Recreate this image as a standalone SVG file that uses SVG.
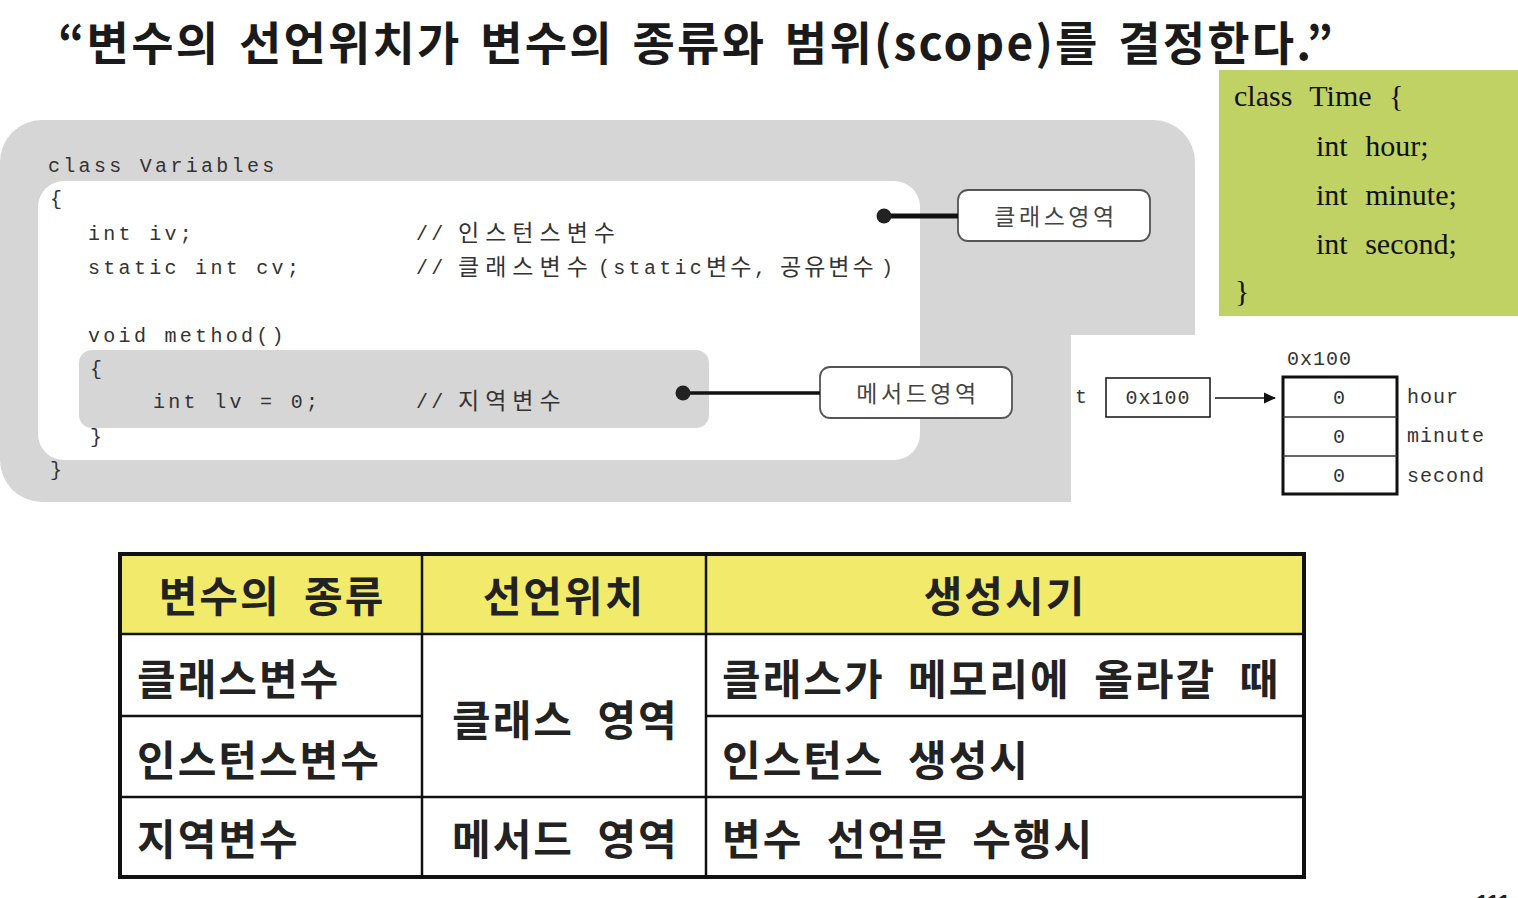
<svg xmlns="http://www.w3.org/2000/svg" width="1518" height="898" viewBox="0 0 1518 898">
<defs>
<style>
.title{font-family:"Noto Sans CJK KR","Liberation Serif",serif;font-weight:700;font-size:46px;fill:#1a1a1a;word-spacing:6px}
.code{font-family:"Liberation Mono","Noto Sans CJK KR",monospace;font-size:20px;fill:#333;letter-spacing:3.3px}
.ko{font-family:"Noto Sans CJK KR",sans-serif;font-size:23px;fill:#333;letter-spacing:6px}
.ko2{font-family:"Noto Sans CJK KR",sans-serif;font-size:23px;fill:#333;letter-spacing:3px}
.lbl{font-family:"Noto Sans CJK KR",sans-serif;font-size:23px;fill:#444;text-anchor:middle;dominant-baseline:central;letter-spacing:3.5px}
.lblbox{fill:#fff;stroke:#555;stroke-width:1.8}
.serif{font-family:"Liberation Serif",serif;font-size:30px;fill:#111;word-spacing:10px}
.mono{font-family:"Liberation Mono",monospace;font-size:20px;fill:#333}
.th{font-family:"Noto Sans CJK KR",sans-serif;font-weight:700;font-size:42px;fill:#222;text-anchor:middle;letter-spacing:2px;word-spacing:12px}
.td{font-family:"Noto Sans CJK KR",sans-serif;font-weight:700;font-size:42px;fill:#222;letter-spacing:2px;word-spacing:12px}
.grid{stroke:#111;stroke-width:2.5;fill:none}
</style>
<marker id="arr" markerWidth="12" markerHeight="12" refX="11" refY="6" orient="auto" markerUnits="userSpaceOnUse">
<path d="M0,0.5 L12,6 L0,11.5 z" fill="#111"/>
</marker>
</defs>
<rect width="1518" height="898" fill="#fff"/>

<g id="title">
<text class="title" x="58" y="60" textLength="1275" lengthAdjust="spacing">“변수의 선언위치가 변수의 종류와 범위(scope)를 결정한다.”</text>
</g>

<g id="class-variables">
<rect x="0" y="120" width="1195" height="382" rx="42" fill="#d6d6d6"/>
<rect x="38" y="181" width="882" height="279" rx="26" fill="#fff"/>
<rect x="79" y="350" width="630" height="78" rx="13" fill="#d6d6d6"/>
<text class="code" x="48" y="172">class Variables</text>
<text class="code" x="50" y="205">{</text>
<text class="code" x="88" y="240">int iv;</text>
<text class="code" x="88" y="274">static int cv;</text>
<text class="code" x="88" y="342">void method()</text>
<text class="code" x="90" y="375">{</text>
<text class="code" x="153" y="408">int lv = 0;</text>
<text class="code" x="90" y="443">}</text>
<text class="code" x="50" y="476">}</text>
<text class="code" x="416" y="240">//</text>
<text class="ko" x="458" y="241">인스턴스변수</text>
<text class="code" x="416" y="274">//</text>
<text class="ko" x="458" y="275">클래스변수</text>
<text class="code" x="598" y="274">(static</text>
<text class="ko2" x="706" y="275">변수</text>
<text class="code" x="754" y="274">,</text>
<text class="ko2" x="780" y="275">공유변수</text>
<text class="code" x="881" y="274">)</text>
<text class="code" x="416" y="408">//</text>
<text class="ko" x="458" y="409">지역변수</text>
</g>

<g id="class-area-label">
<rect class="lblbox" x="958" y="190" width="192" height="51" rx="10"/>
<text class="lbl" x="1056" y="215">클래스영역</text>
</g>

<g id="method-area-label">
<rect class="lblbox" x="820" y="367" width="192" height="51" rx="10"/>
<text class="lbl" x="918" y="392">메서드영역</text>
</g>

<g id="class-time">
<rect x="1219" y="70" width="299" height="246" fill="#c0d264"/>
<text class="serif" x="1234" y="106">class Time {</text>
<text class="serif" x="1316" y="156">int hour;</text>
<text class="serif" x="1316" y="205">int minute;</text>
<text class="serif" x="1316" y="254">int second;</text>
<text class="serif" x="1235" y="301">}</text>
</g>

<g id="memory">
<rect x="1071" y="335" width="447" height="167" fill="#fff"/>
<text class="mono" x="1075" y="403">t</text>
<rect x="1106" y="378" width="104" height="39" fill="#fff" stroke="#111" stroke-width="1.5"/>
<text class="mono" x="1158" y="404" text-anchor="middle" letter-spacing="1">0x100</text>
<text class="mono" x="1287" y="365" letter-spacing="1">0x100</text>
<rect x="1283" y="377" width="114" height="117" fill="#fff" stroke="#111" stroke-width="3"/>
<line x1="1283" y1="417" x2="1397" y2="417" stroke="#333" stroke-width="1.5"/>
<line x1="1283" y1="456" x2="1397" y2="456" stroke="#333" stroke-width="1.5"/>
<text class="mono" x="1339" y="404" text-anchor="middle">0</text>
<text class="mono" x="1339" y="443" text-anchor="middle">0</text>
<text class="mono" x="1339" y="482" text-anchor="middle">0</text>
<text class="mono" x="1407" y="403" letter-spacing="1">hour</text>
<text class="mono" x="1407" y="442" letter-spacing="1">minute</text>
<text class="mono" x="1407" y="482" letter-spacing="1">second</text>
</g>

<g id="table">
<rect x="120" y="554" width="1184" height="80" fill="#f2ea6a"/>
<rect x="120" y="554" width="1184" height="323" fill="none" stroke="#111" stroke-width="4"/>
<line class="grid" x1="120" y1="634" x2="1304" y2="634"/>
<line class="grid" x1="120" y1="716" x2="422" y2="716"/>
<line class="grid" x1="706" y1="716" x2="1304" y2="716"/>
<line class="grid" x1="120" y1="797" x2="1304" y2="797"/>
<line class="grid" x1="422" y1="554" x2="422" y2="877"/>
<line class="grid" x1="706" y1="554" x2="706" y2="877"/>
<text class="th" x="272" y="612">변수의 종류</text>
<text class="th" x="564" y="612">선언위치</text>
<text class="th" x="1005" y="612">생성시기</text>
<text class="td" x="137" y="695">클래스변수</text>
<text class="td" x="137" y="776">인스턴스변수</text>
<text class="td" x="137" y="855">지역변수</text>
<text class="td" x="452" y="736">클래스 영역</text>
<text class="td" x="452" y="855">메서드 영역</text>
<text class="td" x="722" y="695">클래스가 메모리에 올라갈 때</text>
<text class="td" x="722" y="776">인스턴스 생성시</text>
<text class="td" x="722" y="855">변수 선언문 수행시</text>
</g>

<g id="page-number">
<text x="1476" y="910" font-family="Liberation Sans, sans-serif" font-weight="700" font-size="22" fill="#222">111</text>
</g>

<g id="connectors">
<line x1="884" y1="216" x2="958" y2="216" stroke="#111" stroke-width="5"/>
<circle cx="884" cy="216" r="7.5" fill="#222"/>
<line x1="683" y1="393" x2="820" y2="393" stroke="#111" stroke-width="3.5"/>
<circle cx="683" cy="393" r="7.5" fill="#222"/>
<line x1="1215" y1="398" x2="1275" y2="398" stroke="#111" stroke-width="1.5" marker-end="url(#arr)"/>
</g>
</svg>
